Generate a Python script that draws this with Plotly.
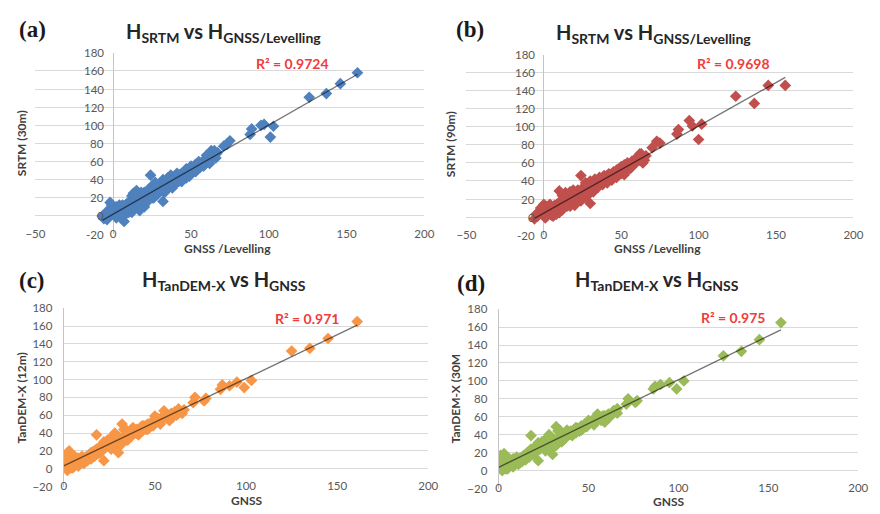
import numpy as np
import plotly.graph_objects as go

# ---------------- data ----------------
a_x = [-7, -6, -5, -4, -3, -4, -2, -1, 0, 0, 1, 1, 2, 2, 3, 3, 4, 4, 5, 5, 6, 7, 7, 8, 8, 9, 9, 10, 10, 11,
       12, 12, 13, 13, 14, 15, 15, 16, 16, 17, 17, 18, 19, 20, 20, 21, 22, 22, 23, 24, 24, 25, 25, 26, 27, 28,
       29, 30, 30, 31, 32, 32, 33, 34, 35, 35, 36, 37, 38, 39, 40, 41, 42, 43, 44, 45, 46, 47, 48, 49, 50, 50,
       51, 52, 53, 54, 55, 56, 57, 58, 59, 60, 61, 62, 63, 63, 64, 65, 66, 67, 71, 73, 75, 88, 89, 95, 97,
       101, 103, 126, 137, 146, 157,
       2, 6, 11, 14, 18, 21, 26, 28, 33, 36, 38, 41, 44, 47, 49, 53, 55, 58, 60, 62, 65, 66]
a_y = [0, -3, 2, 5, -1, -4, 15, 12, 3, 8, 1, 6, 10, 4, 2, 7, 0, 12, 5, 9, 3, -6, 8, 2, 12, 6, 14, 10, 4, 16,
       22, 4, 25, 12, 18, 28, 10, 20, 14, 24, 6, 17, 12, 10, 26, 22, 27, 18, 30, 45, 24, 20, 33, 28, 37, 23,
       32, 27, 36, 30, 16, 40, 34, 28, 42, 37, 32, 45, 38, 34, 44, 41, 38, 46, 43, 48, 45, 42, 50, 47, 55, 51,
       48, 53, 57, 51, 56, 54, 59, 61, 57, 63, 60, 66, 72, 63, 69, 66, 64, 70, 77, 79, 83, 90, 96, 100, 101,
       87, 99, 131, 135, 146, 158,
       -2, 12, 8, 24, 26, 14, 20, 34, 26, 40, 31, 47, 38, 52, 44, 49, 60, 55, 67, 58, 72, 68]

b_x = [-6, -5, -4, -3, -2, -1, 0, 0, 1, 1, 2, 2, 3, 4, 5, 5, 6, 7, 8, 8, 9, 10, 10, 11, 12, 12, 13, 14, 15,
       15, 16, 17, 18, 19, 20, 20, 21, 22, 24, 23, 24, 25, 26, 27, 28, 29, 30, 30, 31, 32, 33, 34, 35, 36, 37,
       38, 39, 40, 41, 42, 43, 44, 45, 46, 47, 48, 49, 50, 51, 52, 52, 53, 54, 55, 56, 57, 58, 59, 60, 61, 62,
       63, 64, 65, 66, 70, 73, 75, 86, 87, 94, 96, 100, 102, 124, 136, 145, 156,
       1, 4, 6, 11, 14, 17, 19, 25, 27, 29, 33, 36, 38, 41, 44, 47, 50, 54, 57, 60, 62, 64]
b_y = [-2, 3, 1, 6, 10, 4, 2, 14, 5, 9, 3, 12, 7, 4, 10, 2, 6, 13, 3, 9, 15, 5, 29, 18, 24, 8, 14, 21, 25,
       12, 19, 28, 16, 22, 13, 26, 20, 30, 46, 25, 18, 32, 28, 22, 36, 31, 15, 40, 34, 28, 42, 37, 33, 44, 40,
       36, 46, 42, 38, 48, 45, 41, 50, 47, 44, 53, 50, 56, 52, 47, 58, 55, 60, 57, 54, 62, 59, 64, 61, 66, 63,
       70, 66, 63, 68, 77, 84, 82, 92, 97, 107, 101, 86, 103, 134, 126, 146, 146,
       -1, 14, 1, 11, 27, 12, 30, 24, 38, 25, 36, 38, 43, 46, 48, 52, 48, 52, 56, 66, 70, 60]

c_x = [1, 1, 1, 2, 2, 2, 3, 3, 3, 4, 4, 5, 5, 6, 7, 8, 8, 9, 10, 11, 12, 13, 14, 15, 16, 17, 18, 18, 19, 20,
       21, 22, 22, 23, 24, 25, 26, 27, 28, 28, 29, 30, 31, 32, 32, 33, 34, 35, 36, 37, 38, 39, 40, 41, 42, 43,
       44, 45, 46, 47, 48, 49, 50, 50, 52, 53, 54, 55, 56, 57, 58, 59, 60, 61, 63, 65, 71, 72, 77, 78, 86, 87,
       91, 95, 99, 103, 125, 135, 145, 161,
       0, 0, 2, 4, 6, 10, 12, 15, 17, 20, 24, 26, 30, 34, 36, 40, 43, 46, 51, 55, 58, 62, 66]
c_y = [2, 8, 14, -2, 5, 18, 20, 10, 3, 7, 15, 1, 11, 5, 9, 3, 12, 7, 10, 6, 13, 9, 16, 11, 19, 14, 38, 22,
       17, 25, 20, 9, 30, 24, 28, 33, 26, 36, 40, 30, 22, 18, 34, 50, 28, 44, 38, 32, 42, 36, 46, 40, 44, 38,
       46, 42, 48, 44, 50, 46, 52, 48, 59, 53, 56, 50, 58, 65, 60, 56, 54, 62, 58, 64, 67, 62, 74, 80, 76, 79,
       89, 94, 93, 97, 91, 99, 132, 135, 146, 165,
       6, 12, 10, 1, 14, 14, 8, 18, 20, 18, 32, 22, 36, 44, 35, 40, 48, 44, 55, 56, 60, 60, 66]

d_x = [1, 1, 1, 2, 2, 2, 3, 3, 4, 4, 5, 5, 6, 7, 8, 8, 9, 10, 11, 12, 13, 14, 15, 16, 17, 18, 18, 19, 20, 21,
       22, 22, 23, 24, 25, 26, 27, 28, 28, 29, 30, 31, 32, 32, 33, 34, 35, 36, 37, 38, 39, 40, 41, 42, 43, 44,
       45, 46, 47, 48, 49, 50, 50, 52, 53, 54, 55, 56, 57, 59, 59, 60, 61, 64, 66, 66, 71, 72, 76, 77, 86, 87,
       90, 95, 99, 103, 125, 135, 145, 157,
       0, 0, 2, 4, 6, 10, 12, 15, 17, 20, 24, 26, 30, 34, 36, 40, 43, 46, 51, 55, 58, 62, 65]
d_y = [3, 10, 17, 0, 6, 14, 19, 4, 8, 12, 2, 10, 6, 10, 4, 13, 8, 11, 7, 14, 10, 17, 12, 20, 15, 39, 24, 18,
       26, 21, 11, 31, 24, 28, 33, 27, 36, 40, 30, 23, 18, 34, 49, 28, 44, 38, 32, 41, 36, 45, 40, 44, 39, 46,
       42, 47, 44, 50, 47, 52, 49, 56, 53, 56, 51, 58, 63, 60, 56, 54, 61, 58, 63, 67, 64, 69, 74, 80, 76, 78,
       91, 94, 96, 98, 91, 100, 128, 133, 146, 165,
       7, 13, 10, 2, 13, 15, 9, 18, 21, 19, 32, 22, 36, 45, 34, 40, 48, 45, 54, 57, 61, 60, 66]

y_ticks = [-20, 0, 20, 40, 60, 80, 100, 120, 140, 160, 180]
x_ticks_ab = [-50, 0, 50, 100, 150, 200]
x_ticks_cd = [0, 50, 100, 150, 200]
r2_text = ["R² = 0.9724", "R² = 0.9698", "R² = 0.971", "R² = 0.975"]
titles = ["H<sub>SRTM</sub> vs H<sub>GNSS/Levelling</sub>",
          "H<sub>SRTM</sub> vs H<sub>GNSS/Levelling</sub>",
          "H<sub>TanDEM-X</sub> vs H<sub>GNSS</sub>",
          "H<sub>TanDEM-X</sub> vs H<sub>GNSS</sub>"]
panel_tags = ["(a)", "(b)", "(c)", "(d)"]
x_titles = ["GNSS /Levelling", "GNSS /Levelling", "GNSS", "GNSS"]
y_titles = ["SRTM (30m)", "SRTM (90m)", "TanDEM-X (12m)", "TanDEM-X (30M"]
colors = ["#4F81BD", "#C0504D", "#F79646", "#9BBB59"]

# ---------------- layout geometry (pixels) ----------------
W, H = 880, 514
def fx(x): return x / W
def fy(y): return 1 - y / H

panels = [
    dict(xs=a_x, ys=a_y, xr=[-50, 200], xt=x_ticks_ab, px=(26, 424), py=(47, 233),
         title=(218, 26), tag=(23, 23), xtit=(223, 248), ytit=(12, 140), r2=(289, 58)),
    dict(xs=b_x, ys=b_y, xr=[-50, 200], xt=x_ticks_ab, px=(467, 863), py=(49, 234),
         title=(658, 27), tag=(471, 23), xtit=(663, 248), ytit=(451, 141), r2=(740, 58)),
    dict(xs=c_x, ys=c_y, xr=[0, 200], xt=x_ticks_cd, px=(55, 428), py=(309, 492),
         title=(219, 281), tag=(23, 281), xtit=(242, 506), ytit=(12, 401), r2=(304, 320)),
    dict(xs=d_x, ys=d_y, xr=[0, 200], xt=x_ticks_cd, px=(500, 868), py=(310, 494),
         title=(662, 281), tag=(472, 284), xtit=(674, 507), ytit=(456, 402), r2=(740, 319)),
]

FONT = "Lato"
TICKFONT = dict(family=FONT, size=11.5, color="#595959")
fig = go.Figure()
annotations = []
for i, p in enumerate(panels):
    n = i + 1
    xa = "x" if n == 1 else f"x{n}"
    ya = "y" if n == 1 else f"y{n}"
    xs = np.array(p["xs"], dtype=float)
    ys = np.array(p["ys"], dtype=float)
    fig.add_trace(go.Scatter(x=xs, y=ys, mode="markers", xaxis=xa, yaxis=ya,
                             marker=dict(symbol="diamond", size=9, color=colors[i],
                                         line=dict(width=0)),
                             showlegend=False, hoverinfo="skip"))
    k, b0 = np.polyfit(xs, ys, 1)
    lx = np.array([xs.min(), xs.max()])
    fig.add_trace(go.Scatter(x=lx, y=k * lx + b0, mode="lines", xaxis=xa, yaxis=ya,
                             line=dict(color="rgba(0,0,0,0.55)", width=1.3),
                             showlegend=False, hoverinfo="skip"))
    xd = [fx(p["px"][0]), fx(p["px"][1])]
    yd = [fy(p["py"][1]), fy(p["py"][0])]
    xr = p["xr"]
    cross = xr[0] < 0
    xaxis = dict(domain=xd, range=xr, tickvals=p["xt"], showgrid=False,
                 zeroline=cross, zerolinecolor="#c4c4c4", zerolinewidth=1,
                 showline=True, linecolor="white", linewidth=2, ticks="",
                 ticklabelstandoff=-12, anchor=ya, layer="above traces",
                 tickfont=TICKFONT, fixedrange=True)
    yaxis = dict(anchor=xa, domain=yd, range=[-20, 180], tickvals=y_ticks, showgrid=True,
                 gridcolor="#d9d9d9", gridwidth=1, zeroline=False,
                 linecolor="#c4c4c4", linewidth=1, ticks="", ticklabelstandoff=8,
                 layer="above traces", tickfont=TICKFONT, fixedrange=True)
    if cross:
        # vertical axis crosses at x = 0: its labels sit next to that crossing
        yaxis.update(showline=False, showticklabels=False)
        for v in y_ticks:
            annotations.append(dict(text=str(v), x=0, y=v, xref=xa, yref=ya, showarrow=False,
                                    xanchor="right", yanchor="middle", xshift=-7,
                                    font=TICKFONT))
    else:
        yaxis.update(showline=True, showticklabels=True)
    fig.update_layout(**{("xaxis" if n == 1 else f"xaxis{n}"): xaxis,
                         ("yaxis" if n == 1 else f"yaxis{n}"): yaxis})

    annotations.append(dict(text="<b>" + titles[i] + "</b>", x=fx(p["title"][0]), y=fy(p["title"][1]),
                            xref="paper", yref="paper", showarrow=False, xanchor="center",
                            yanchor="middle", font=dict(family=FONT, size=20, color="#262626")))
    annotations.append(dict(text="<b>" + panel_tags[i] + "</b>", x=fx(p["tag"][0]), y=fy(p["tag"][1]),
                            xref="paper", yref="paper", showarrow=False, xanchor="center",
                            yanchor="middle", font=dict(family="Liberation Serif", size=23, color="#1a1a1a")))
    annotations.append(dict(text="<b>" + x_titles[i] + "</b>", x=fx(p["xtit"][0]), y=fy(p["xtit"][1]),
                            xref="paper", yref="paper", showarrow=False, xanchor="center",
                            yanchor="middle", font=dict(family=FONT, size=12, color="#404040")))
    annotations.append(dict(text="<b>" + y_titles[i] + "</b>", x=fx(p["ytit"][0]), y=fy(p["ytit"][1]),
                            xref="paper", yref="paper", showarrow=False, xanchor="center",
                            yanchor="middle", textangle=-90,
                            font=dict(family=FONT, size=12, color="#404040")))
    annotations.append(dict(text="<b>" + r2_text[i] + "</b>", x=fx(p["r2"][0]), y=fy(p["r2"][1]),
                            xref="paper", yref="paper", showarrow=False, xanchor="center",
                            yanchor="middle", font=dict(family=FONT, size=14, color="#F03C3C")))

fig.update_layout(width=W, height=H, margin=dict(l=0, r=0, t=0, b=0),
                  paper_bgcolor="white", plot_bgcolor="white",
                  annotations=annotations, showlegend=False)
fig.write_html("out.html", config={"displayModeBar": False})
